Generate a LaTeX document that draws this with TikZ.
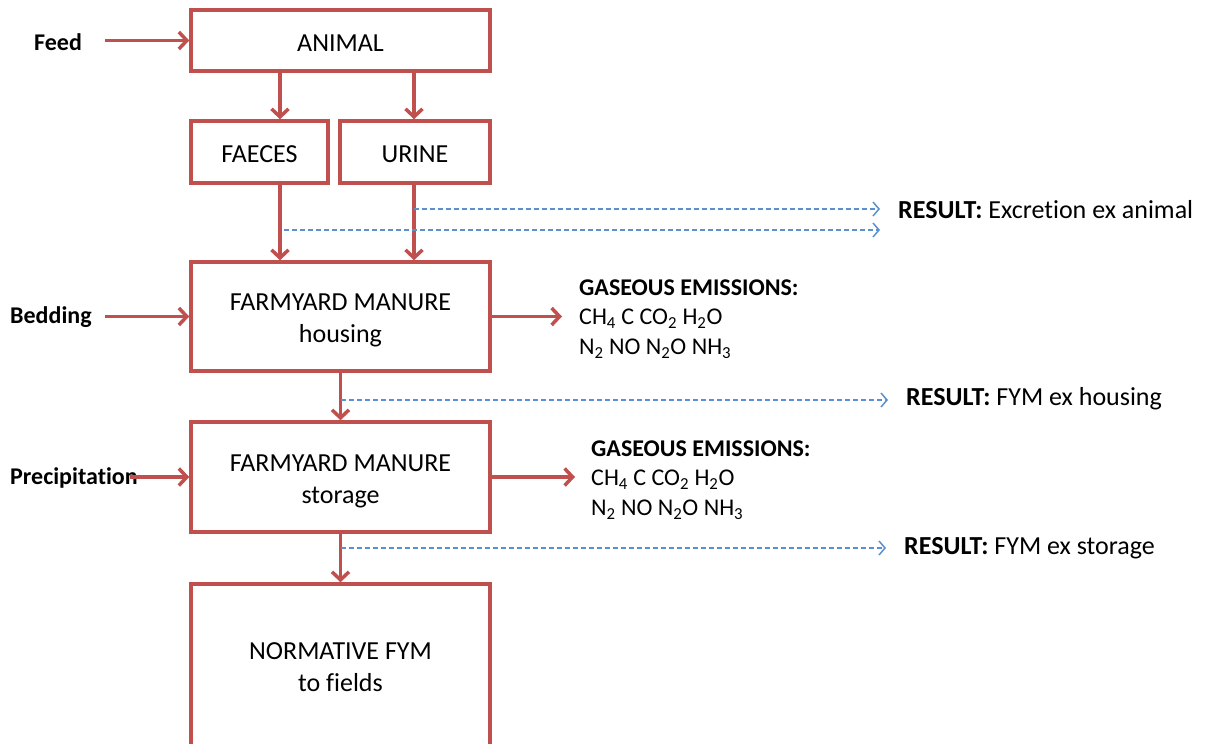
\documentclass[tikz,border=0pt]{standalone}
\usepackage{fontspec}
\setmainfont{Carlito}[Ligatures=NoCommon]
\usetikzlibrary{arrows.meta}
\definecolor{boxred}{HTML}{C0504D}
\definecolor{flowblue}{HTML}{5A8FD0}
\newcommand{\lowstrut}[1]{\rule{0pt}{#1}}
\tikzset{
  flowbox/.style={draw=boxred, line width=3.5pt, rectangle, inner sep=0pt,
    font=\fontsize{26}{32}\selectfont, align=center},
  redarrow/.style={draw=boxred, line width=3.5pt,
    -{Straight Barb[length=8pt,width=17pt,line width=3.5pt]}},
  bluearrow/.style={draw=flowblue, line width=1.5pt, dash pattern=on 5pt off 3pt,
    -{Straight Barb[length=6pt,width=14pt,line width=1.5pt]}},
  sidelabel/.style={font=\bfseries\fontsize{24}{30}\selectfont, anchor=west, inner sep=0pt},
  gaslabel/.style={font=\fontsize{24}{29.5}\selectfont, anchor=west, align=left, inner sep=0pt},
  resultlabel/.style={font=\fontsize{26}{30}\selectfont, anchor=west, inner sep=0pt}
}
\begin{document}
\begin{tikzpicture}[x=1pt,y=-1pt]
\useasboundingbox (0,0) rectangle (1207,744);

% process boxes
\node[flowbox, minimum width=299pt, minimum height=61pt] (animal) at (340.5,40.5) {\lowstrut{21pt}ANIMAL};
\node[flowbox, minimum width=137pt, minimum height=62pt] (faeces) at (259.5,152) {\lowstrut{21pt}FAECES};
\node[flowbox, minimum width=150pt, minimum height=62pt] (urine) at (415,152) {\lowstrut{21pt}URINE};
\node[flowbox, minimum width=299pt, minimum height=109pt] (housing) at (340.5,316.5) {\lowstrut{25pt}FARMYARD MANURE\\housing};
\node[flowbox, minimum width=299pt, minimum height=110pt] (storage) at (340.5,477) {\lowstrut{25pt}FARMYARD MANURE\\storage};
\node[flowbox, minimum width=299pt, minimum height=166pt] (fields) at (340.5,667) {NORMATIVE FYM\\to fields};

% inputs on the left
\node[sidelabel] (feed) at (34,42) {Feed};
\node[sidelabel] (bedding) at (10,317) {Bedding};
\node[sidelabel] (precip) at (10,478) {Precipitation};
\coordinate (feedstart) at (105,40.5);
\coordinate (beddingstart) at (105,316.5);
\coordinate (precipstart) at (130,477);
\draw[redarrow] (feedstart) -- (animal.west);
\draw[redarrow] (beddingstart) -- (housing.west);
\draw[redarrow] (precipstart) -- (storage.west);

% main flow
\draw[redarrow] (animal.south -| 280,0) -- (faeces.north -| 280,0);
\draw[redarrow] (animal.south -| 414,0) -- (urine.north -| 414,0);
\draw[redarrow] (faeces.south -| 280,0) -- (housing.north -| 280,0);
\draw[redarrow] (urine.south -| 414,0) -- (housing.north -| 414,0);
\draw[redarrow] (housing.south) -- (storage.north);
\draw[redarrow] (storage.south) -- (fields.north);

% gaseous emissions
\node[gaslabel] (gas1) at (579,319) {\textbf{GASEOUS EMISSIONS:}\\CH\textsubscript{4} C CO\textsubscript{2} H\textsubscript{2}O\\N\textsubscript{2} NO N\textsubscript{2}O NH\textsubscript{3}};
\node[gaslabel] (gas2) at (591,480) {\textbf{GASEOUS EMISSIONS:}\\CH\textsubscript{4} C CO\textsubscript{2} H\textsubscript{2}O\\N\textsubscript{2} NO N\textsubscript{2}O NH\textsubscript{3}};
\draw[redarrow] (housing.east) -- (562,316.5);
\draw[redarrow] (storage.east) -- (575,477);

% intermediate results
\coordinate (urinetap) at (414,209);
\coordinate (faecestap) at (284,230);
\coordinate (housingtap) at (340.5,400);
\coordinate (storagetap) at (340.5,548);
\node[resultlabel] (res1) at (898,210) {\textbf{RESULT:} Excretion ex animal};
\node[resultlabel] (res2) at (906,399) {\textbf{RESULT:} FYM ex housing};
\node[resultlabel] (res3) at (904,548) {\textbf{RESULT:} FYM ex storage};
\draw[bluearrow] (urinetap) -- (880,209);
\draw[bluearrow] (faecestap) -- (880,230);
\draw[bluearrow] (housingtap) -- (888,400);
\draw[bluearrow] (storagetap) -- (886,548);
\end{tikzpicture}
\end{document}
